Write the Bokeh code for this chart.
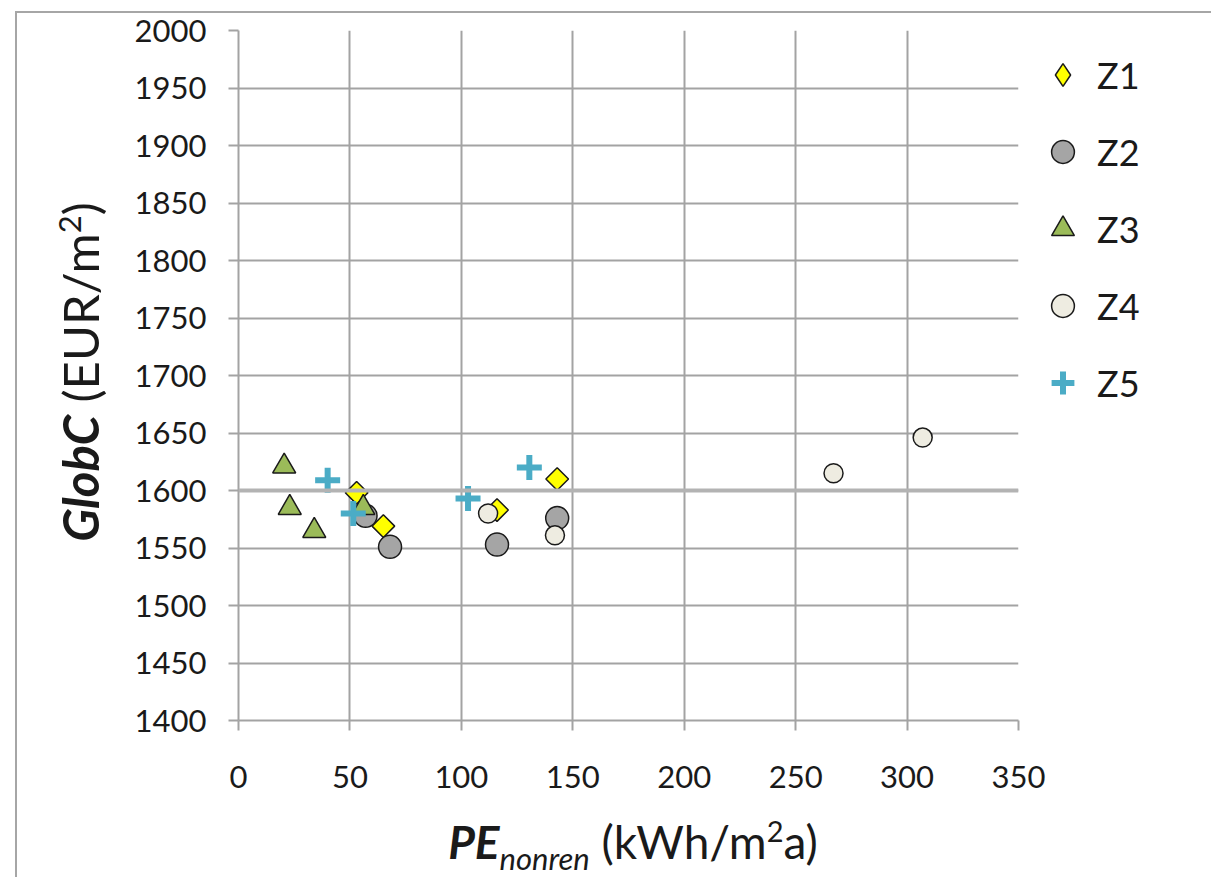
import numpy as np
from bokeh.plotting import figure
from bokeh.models import (Range1d, Legend, LegendItem, Span, FixedTicker,
                          GridBox, Div)
from bokeh.embed import file_html
from bokeh.resources import INLINE

# ---- data ----
series_names = ["Z1", "Z2", "Z3", "Z4", "Z5"]
z1_x = [53, 65, 116, 143]
z1_y = [1598, 1569, 1583, 1610]
z2_x = [57, 68, 116, 143]
z2_y = [1578, 1551, 1553, 1576]
z3_x = [20.5, 23, 34, 56]
z3_y = [1621, 1585, 1565, 1585]
z4_x = [112, 142, 267, 307]
z4_y = [1580, 1561, 1615, 1646]
z5_x = [40, 51.5, 103, 130.5]
z5_y = [1609, 1580, 1593, 1620]
x_ticks = [0, 50, 100, 150, 200, 250, 300, 350]
y_ticks = [1400, 1450, 1500, 1550, 1600, 1650, 1700, 1750, 1800, 1850, 1900, 1950, 2000]
highlight_y = 1600

FONT = "Lato"
GRID = "#a3a3a3"
INK = "#1a1a1a"

p = figure(frame_width=780, frame_height=690,
           x_range=Range1d(x_ticks[0], x_ticks[-1]),
           y_range=Range1d(y_ticks[0], y_ticks[-1]),
           output_backend="svg", toolbar_location=None,
           min_border_left=238, min_border_top=30,
           min_border_right=180, min_border_bottom=150)
p.outline_line_color = None
p.background_fill_color = "white"
p.border_fill_color = "white"

for ax, ticks in ((p.xaxis, x_ticks), (p.yaxis, y_ticks)):
    ax.ticker = FixedTicker(ticks=ticks)
    ax.axis_line_color = GRID
    ax.axis_line_width = 2
    ax.major_tick_line_color = GRID
    ax.major_tick_line_width = 2
    ax.major_tick_in = 0
    ax.major_tick_out = 10
    ax.minor_tick_line_color = None
    ax.major_label_text_font = FONT
    ax.major_label_text_font_size = "31px"
    ax.major_label_text_color = INK
p.yaxis.major_label_standoff = 22
p.xaxis.major_label_standoff = 35

p.grid.grid_line_color = GRID
p.grid.grid_line_width = 2
p.add_layout(Span(location=highlight_y, dimension="width",
                  line_color="#b3b3b3", line_width=4))

# diamond key for the legend (drawn under the Z1 markers, same data)
r1_key = p.scatter(z1_x, z1_y, marker="diamond", size=21,
                   fill_color="#ffff00", line_color=INK, line_width=1.5)
r1 = p.scatter(z1_x, z1_y, marker="square", angle=np.pi / 4, size=16,
               fill_color="#ffff00", line_color=INK, line_width=1.5)
r2 = p.scatter(z2_x, z2_y, marker="circle", size=23,
               fill_color="#a5a5a5", line_color=INK, line_width=1.5)
r3 = p.scatter(z3_x, z3_y, marker="triangle", size=23,
               fill_color="#9bbb59", line_color=INK, line_width=1.5)
r4 = p.scatter(z4_x, z4_y, marker="circle", size=19,
               fill_color="#eeece1", line_color=INK, line_width=1.5)
r5 = p.scatter(z5_x, z5_y, marker="cross", size=25,
               line_color="#4bacc6", line_width=6)

legend = Legend(items=[LegendItem(label=n, renderers=[r])
                       for n, r in zip(series_names, [r1_key, r2, r3, r4, r5])],
                location="top_left", glyph_width=57, glyph_height=57,
                spacing=20, label_standoff=6, padding=15, margin=16,
                border_line_color=None, background_fill_alpha=0,
                label_text_font=FONT, label_text_font_size="36px",
                label_text_color=INK)
p.add_layout(legend, "right")

# ---- axis titles with mixed styles (HTML text overlaid on the figure) ----
def base(size):
    return (f"font-family:{FONT};font-size:{size}px;color:{INK};"
            f"white-space:nowrap;line-height:{size}px;")

x_title = Div(
    width=780, height=60,
    text=(f'<div style="{base(46)}text-align:center;width:780px">'
          '<span style="font-weight:bold;font-style:italic">PE</span>'
          '<span style="font-style:italic;font-size:31px;position:relative;top:11px">nonren</span>'
          ' (kWh/m<span style="font-size:29px;position:relative;top:-17px">2</span>a)</div>'),
    styles={"transform": "translate(238px, 814px)", "transform-origin": "0 0"})
y_title = Div(
    width=690, height=64,
    text=(f'<div style="{base(49)}text-align:center;width:690px">'
          '<span style="font-weight:bold;font-style:italic">GlobC</span>'
          ' (EUR/m<span style="font-size:31px;position:relative;top:-18px">2</span>)</div>'),
    styles={"transform": "translate(51px, 712px) rotate(-90deg)", "transform-origin": "0 0"})
frame_border = Div(
    width=1201, height=871, text="",
    styles={"transform": "translate(10px, 6px)", "transform-origin": "0 0",
            "border-top": "2px solid #a6a6a6", "border-left": "2px solid #a6a6a6",
            "box-sizing": "border-box"})

page = GridBox(children=[(p, 0, 0), (frame_border, 0, 0), (x_title, 0, 0), (y_title, 0, 0)])

open("out.html", "w").write(file_html(page, INLINE))
